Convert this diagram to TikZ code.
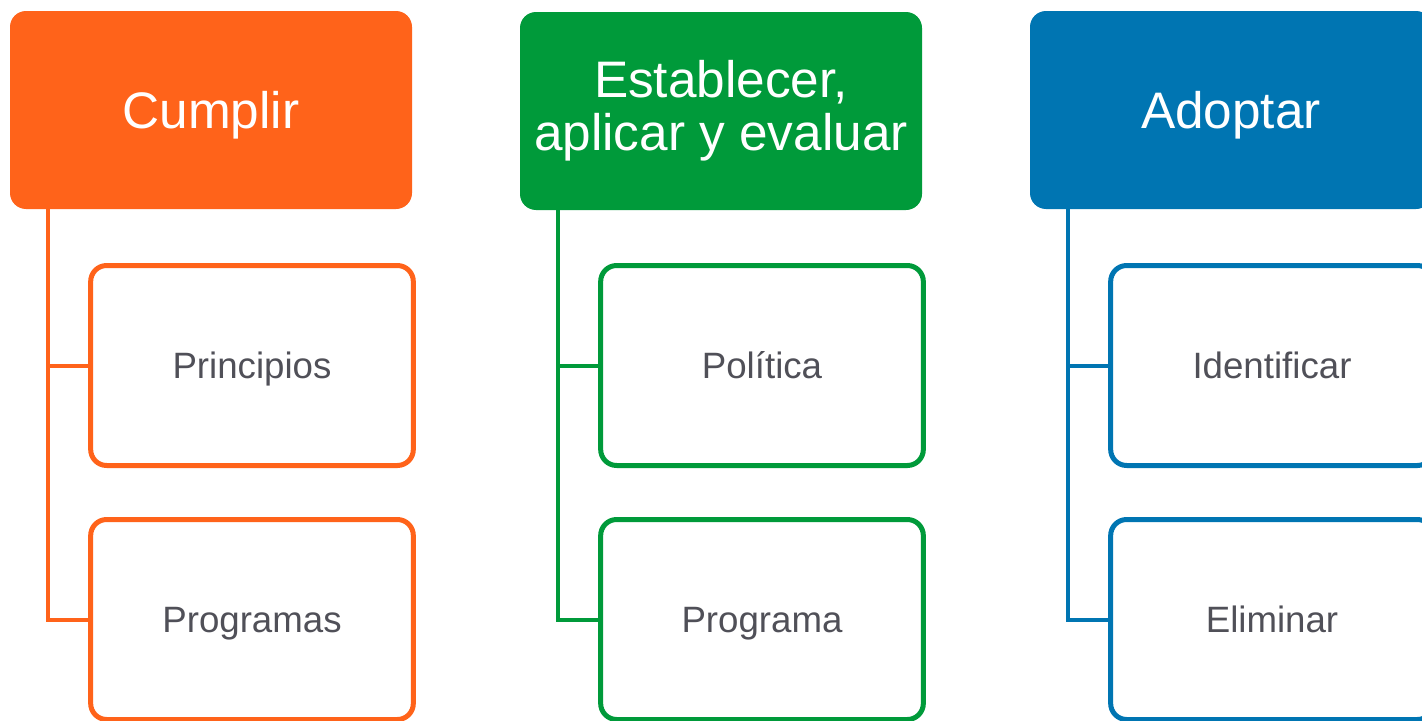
\documentclass[tikz,border=0pt]{standalone}
\usepackage{fontspec}
\setmainfont{Liberation Sans}
\definecolor{cOrange}{RGB}{255,99,26}
\definecolor{cGreen}{RGB}{0,154,58}
\definecolor{cBlue}{RGB}{0,117,178}
\definecolor{cText}{RGB}{80,80,88}
\tikzset{
  headbox/.style={rectangle,rounded corners=12pt,minimum width=301.5pt,minimum height=148.5pt,
    text=white,align=center,inner sep=0pt,font=\fontsize{38.5}{40}\selectfont},
  headcap/.style={text height=27.6pt,text depth=0pt},
  itembox/.style={rectangle,rounded corners=12pt,line width=3.75pt,minimum width=242pt,minimum height=150pt,
    text=cText,inner sep=0pt,text height=19.7pt,text depth=0pt,font=\fontsize{27.5}{30}\selectfont},
  link/.style={line width=3pt}
}
\begin{document}
\begin{tikzpicture}[x=0.75pt,y=0.75pt,yscale=-1,xscale=1]
\useasboundingbox (0,0) rectangle (1422,721);

%Header boxes
\node[headbox,headcap,fill=cOrange] (cumplir) at (211,110) {Cumplir};
\node[headbox,fill=cGreen] (establecer) at (721,111) {Establecer,\\aplicar y evaluar};
\node[headbox,headcap,fill=cBlue] (adoptar) at (1231,110) {Adoptar};

%Item boxes
\node[itembox,draw=cOrange] (principios) at (252,365.5) {Principios};
\node[itembox,draw=cOrange] (programas) at (252,619.5) {Programas};
\node[itembox,draw=cGreen] (politica) at (762,365.5) {Política};
\node[itembox,draw=cGreen] (programa) at (762,619.5) {Programa};
\node[itembox,draw=cBlue] (identificar) at (1272,365.5) {Identificar};
\node[itembox,draw=cBlue] (eliminar) at (1272,619.5) {Eliminar};

%Connectors
\draw[link,cOrange] ([xshift=28.5pt,yshift=-2pt]cumplir.south west) |- (principios.west);
\draw[link,cOrange] ([xshift=28.5pt,yshift=-2pt]cumplir.south west) |- (programas.west);
\draw[link,cGreen] ([xshift=28.5pt,yshift=-2pt]establecer.south west) |- (politica.west);
\draw[link,cGreen] ([xshift=28.5pt,yshift=-2pt]establecer.south west) |- (programa.west);
\draw[link,cBlue] ([xshift=28.5pt,yshift=-2pt]adoptar.south west) |- (identificar.west);
\draw[link,cBlue] ([xshift=28.5pt,yshift=-2pt]adoptar.south west) |- (eliminar.west);

\end{tikzpicture}
\end{document}
